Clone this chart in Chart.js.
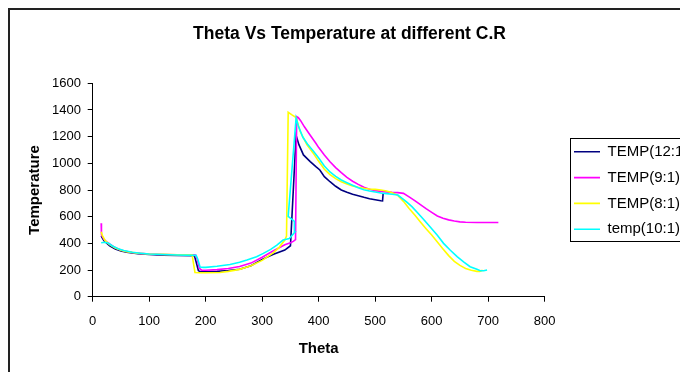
<!DOCTYPE html>
<html>
<head>
<meta charset="utf-8">
<script src="https://cdn.jsdelivr.net/npm/chart.js@4.4.1/dist/chart.umd.min.js"></script>
<style>
  html, body { margin: 0; padding: 0; background: #fff; overflow: hidden; }
  #wrap { position: relative; width: 680px; height: 372px; }
</style>
</head>
<body>
<div id="wrap"><canvas id="myChart"></canvas></div>
<script>
// crank angle (theta) and temperature, one pair of arrays per compression ratio
const thetaCR12 = [15, 16, 20, 30, 40, 50, 60, 80, 100, 125, 150, 180, 183, 187, 190, 200, 220, 240, 260, 280, 300, 320, 340, 350, 360, 365, 373, 385, 395, 402, 410, 420, 430, 440, 450, 460, 470, 480, 490, 500, 510, 513, 514];
const tempCR12 = [455, 448, 420, 382, 357, 342, 333, 323, 316, 312, 310, 308, 262, 196, 188, 187, 190, 197, 206, 232, 280, 318, 350, 382, 1210, 1140, 1063, 1013, 975, 950, 900, 862, 828, 800, 783, 768, 757, 745, 735, 727, 719, 718, 770];

const thetaCR9 = [15, 15.5, 20, 25, 30, 37, 45, 54, 70, 84, 100, 125, 150, 182, 185, 189, 193, 200, 220, 240, 260, 280, 300, 320, 340, 350, 355, 359, 361, 364, 368, 375, 385, 395, 400, 410, 420, 430, 440, 450, 460, 470, 480, 490, 500, 510, 520, 530, 540, 550, 560, 570, 580, 590, 600, 610, 620, 630, 640, 650, 660, 680, 700, 718];
const tempCR9 = [550, 462, 430, 410, 395, 375, 358, 345, 332, 325, 320, 316, 314, 312, 280, 212, 199, 198, 203, 211, 226, 252, 296, 345, 390, 405, 415, 428, 1350, 1342, 1320, 1272, 1210, 1150, 1118, 1063, 1012, 968, 930, 895, 866, 842, 820, 805, 795, 790, 786, 782, 780, 775, 748, 720, 690, 660, 632, 605, 588, 576, 567, 561, 558, 556, 556, 556];

const thetaCR8 = [15, 17, 22, 30, 40, 50, 60, 80, 100, 125, 150, 176, 178, 181, 190, 200, 225, 240, 260, 280, 300, 320, 330, 340, 343, 346, 352, 360, 367, 379, 390, 400, 410, 420, 430, 440, 450, 460, 470, 480, 490, 500, 510, 520, 530, 540, 550, 560, 570, 580, 590, 600, 610, 620, 630, 640, 650, 660, 670, 680, 685, 690];
const tempCR8 = [487, 460, 420, 390, 365, 348, 338, 326, 320, 317, 315, 314, 260, 182, 180, 180, 182, 190, 205, 232, 272, 330, 370, 425, 455, 1383, 1365, 1343, 1240, 1140, 1078, 1015, 955, 915, 885, 862, 845, 830, 820, 813, 808, 805, 800, 792, 780, 760, 715, 662, 612, 560, 510, 462, 410, 358, 308, 265, 235, 212, 198, 190, 190, 198];

const thetaCR10 = [15, 22, 28, 35, 45, 55, 70, 85, 100, 125, 150, 183, 186, 190, 196, 200, 220, 243, 260, 273, 290, 302, 315, 326, 337, 348, 358, 357, 346, 360, 364, 372, 380, 390, 400, 410, 420, 430, 440, 450, 460, 470, 480, 490, 500, 510, 520, 530, 540, 555, 565, 575, 585, 597, 610, 621, 633, 645, 657, 668, 680, 686, 692, 698];
const tempCR10 = [405, 408, 400, 380, 360, 347, 333, 326, 320, 316, 313, 310, 280, 222, 220, 220, 228, 242, 258, 275, 300, 325, 355, 387, 425, 437, 485, 565, 602, 1338, 1280, 1195, 1145, 1095, 1040, 980, 935, 902, 875, 855, 835, 817, 802, 792, 785, 778, 773, 768, 762, 712, 675, 630, 582, 525, 460, 400, 348, 300, 260, 225, 205, 195, 195, 200];

const seriesNames = ['TEMP(12:1)', 'TEMP(9:1)', 'TEMP(8:1)', 'temp(10:1)'];
const xTicks = [0, 800, 100];     // min, max, step
const yTicks = [0, 1600, 200];

const colors = ['#000080', '#ff00ff', '#ffff00', '#00ffff'];
const FONT = "'Liberation Sans', Arial, sans-serif";

function toPoints(xs, ys) {
  return xs.map((x, i) => ({x: x, y: ys[i]}));
}

const allSeries = [
  toPoints(thetaCR12, tempCR12),
  toPoints(thetaCR9, tempCR9),
  toPoints(thetaCR8, tempCR8),
  toPoints(thetaCR10, tempCR10)
];

const datasets = allSeries.map((pts, i) => ({
  label: seriesNames[i],
  data: pts,
  borderColor: colors[i],
  backgroundColor: colors[i],
  borderWidth: 1.6,
  pointRadius: 0,
  showLine: true,
  tension: 0,
  order: 3 - i
}));

// outer frame + legend box, and nudge the legend like excel does
const frames = {
  id: 'frames',
  afterLayout(chart) {
    const lg = chart.legend;
    const shift = 574 - (lg.left + lg.options.labels.padding);
    lg.left += shift;
    lg.right += shift;
    lg.top += 4.5;
    lg.bottom += 4.5;
  },
  afterDraw(chart) {
    const ctx = chart.ctx;
    const hb = chart.legend.legendHitBoxes;
    ctx.save();
    ctx.strokeStyle = '#222';
    ctx.lineWidth = 2;
    ctx.strokeRect(9, 9, 720, 420);
    if (hb && hb.length) {
      const last = hb[hb.length - 1];
      const top = Math.round(hb[0].top) - 5.5;
      const bottom = Math.round(last.top + last.height) + 4.5;
      ctx.lineWidth = 1;
      ctx.strokeStyle = '#000';
      ctx.strokeRect(Math.round(hb[0].left) - 3.5, top, 200, bottom - top);
    }
    ctx.restore();
  }
};

Chart.defaults.color = '#000';
Chart.defaults.font.family = FONT;

const config = {
  type: 'scatter',
  data: {datasets: datasets},
  options: {
    responsive: true,
    maintainAspectRatio: false,
    animation: false,
    layout: {padding: {left: 20, right: 1, top: 0, bottom: 0}},
    plugins: {
      title: {
        display: true,
        text: 'Theta Vs Temperature at different C.R',
        font: {size: 17.5, weight: 'bold'},
        padding: {top: 23.5, bottom: 38.8}
      },
      legend: {
        position: 'right',
        maxWidth: 134.3,
        labels: {
          boxWidth: 26,
          boxHeight: 0,
          padding: 10.8,
          font: {size: 15},
          sort: (a, b) => a.datasetIndex - b.datasetIndex
        }
      },
      tooltip: {enabled: false}
    },
    scales: {
      x: {
        type: 'linear',
        min: xTicks[0],
        max: xTicks[1],
        afterFit: s => { s.height = 75.3; },
        ticks: {stepSize: xTicks[2], font: {size: 13}, padding: 11.5, maxRotation: 0, callback: v => String(v)},
        grid: {drawOnChartArea: false, color: '#000', tickLength: 5},
        border: {color: '#000'},
        title: {display: true, text: 'Theta', font: {size: 15, weight: 'bold'}, padding: {top: 0, bottom: 14.5}}
      },
      y: {
        min: yTicks[0],
        max: yTicks[1],
        afterFit: s => { s.width = 72.7; },
        ticks: {stepSize: yTicks[2], font: {size: 13}, padding: 6.7, callback: v => String(v)},
        grid: {drawOnChartArea: false, color: '#000', tickLength: 5},
        border: {color: '#000'},
        title: {display: true, text: 'Temperature', font: {size: 15, weight: 'bold'}, padding: {top: 5.5, bottom: 0}}
      }
    }
  },
  plugins: [frames]
};

const myChart = new Chart(document.getElementById('myChart'), config);
</script>
</body>
</html>
